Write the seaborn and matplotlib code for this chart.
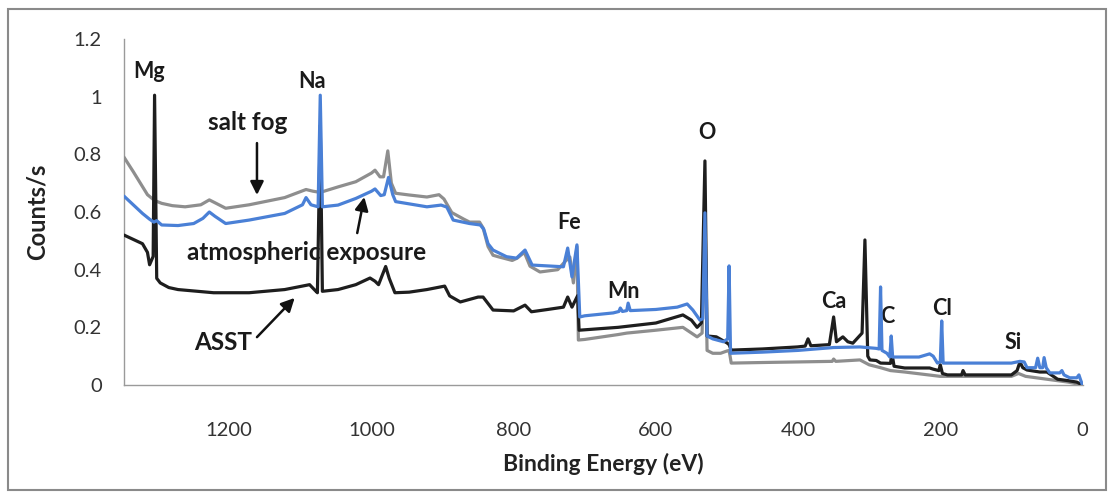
import matplotlib
matplotlib.use("Agg")
import matplotlib.pyplot as plt
from matplotlib.patches import Rectangle
import seaborn as sns
import pandas as pd

# ---------------- data ----------------
salt_fog_ev = [1348, 1335, 1325, 1315, 1305, 1295, 1280, 1262, 1240, 1228, 1220, 1205, 1172,
               1122, 1092, 1082, 1072, 1047, 1022, 1000, 995, 988, 983, 977, 972, 966, 947,
               922, 905, 898, 887, 870, 862, 848, 843, 836, 829, 822, 802, 795, 785, 777, 763,
               738, 727, 721, 716, 711, 709, 700, 653, 641, 600, 562, 542, 535, 531, 528, 520,
               509, 500, 497, 494, 450, 400, 352, 350, 347, 313, 300, 284, 270, 250, 200, 170,
               100, 90, 80, 50, 20, 0]
salt_fog_y = [0.79, 0.74, 0.70, 0.66, 0.64, 0.63, 0.622, 0.618, 0.625, 0.642, 0.632, 0.613, 0.625,
              0.650, 0.678, 0.672, 0.668, 0.687, 0.705, 0.735, 0.745, 0.722, 0.722, 0.812, 0.70,
              0.665, 0.659, 0.652, 0.660, 0.645, 0.598, 0.575, 0.565, 0.565, 0.545, 0.48, 0.45,
              0.445, 0.432, 0.44, 0.46, 0.412, 0.392, 0.40, 0.43, 0.444, 0.354, 0.48, 0.156,
              0.158, 0.175, 0.18, 0.19, 0.20, 0.167, 0.18, 0.55, 0.12, 0.11, 0.11, 0.118, 0.12,
              0.076, 0.078, 0.08, 0.082, 0.09, 0.082, 0.087, 0.07, 0.06, 0.05, 0.045, 0.03,
              0.03, 0.03, 0.04, 0.03, 0.02, 0.01, 0.0]

asst_ev = [1348, 1335, 1322, 1315, 1312, 1307, 1305, 1302, 1297, 1285, 1272, 1222, 1172, 1122,
           1087, 1080, 1076, 1072, 1069, 1047, 1022, 1002, 995, 990, 980, 975, 967, 947, 922,
           897, 890, 875, 850, 843, 829, 800, 784, 775, 752, 730, 724, 718, 710, 708, 653, 600,
           562, 550, 542, 536, 531, 528, 515, 500, 497, 494, 450, 401, 390, 386, 382, 356, 350,
           346, 337, 330, 323, 310, 306, 302, 299, 290, 284, 270, 268, 265, 250, 215, 210, 202,
           200, 197, 190, 170, 168, 165, 100, 92, 88, 84, 78, 60, 50, 35, 20, 8, 0]
asst_y = [0.52, 0.505, 0.49, 0.46, 0.417, 0.446, 1.005, 0.37, 0.354, 0.338, 0.331, 0.32, 0.32,
          0.331, 0.348, 0.33, 0.32, 0.90, 0.325, 0.331, 0.348, 0.371, 0.36, 0.348, 0.411, 0.37,
          0.32, 0.322, 0.331, 0.343, 0.309, 0.288, 0.305, 0.305, 0.26, 0.257, 0.277, 0.254,
          0.262, 0.27, 0.305, 0.27, 0.31, 0.19, 0.20, 0.215, 0.243, 0.225, 0.20, 0.215, 0.777,
          0.17, 0.167, 0.146, 0.14, 0.121, 0.125, 0.132, 0.135, 0.16, 0.136, 0.14, 0.236, 0.15,
          0.167, 0.15, 0.145, 0.18, 0.503, 0.10, 0.087, 0.085, 0.076, 0.075, 0.11, 0.065, 0.059,
          0.059, 0.055, 0.05, 0.07, 0.04, 0.035, 0.035, 0.05, 0.035, 0.035, 0.05, 0.08, 0.06,
          0.052, 0.045, 0.045, 0.02, 0.015, 0.01, 0.0]

atmos_ev = [1348, 1335, 1322, 1312, 1306, 1302, 1295, 1272, 1250, 1237, 1228, 1220, 1205, 1172,
            1122, 1097, 1092, 1085, 1075, 1072, 1069, 1047, 1022, 1000, 995, 987, 982, 976, 970,
            966, 922, 902, 894, 885, 862, 847, 842, 836, 829, 810, 796, 784, 774, 752, 730, 724,
            718, 711, 707, 700, 660, 652, 650, 647, 641, 639, 636, 600, 570, 556, 548, 538, 534,
            531, 528, 520, 505, 499, 497, 495, 450, 400, 350, 313, 290, 286, 284, 282, 275, 271,
            269, 267, 230, 215, 210, 204, 200, 198, 196, 100, 88, 82, 78, 66, 63, 60, 56, 54, 51,
            46, 32, 29, 26, 18, 8, 5, 3, 0]
atmos_y = [0.655, 0.625, 0.595, 0.575, 0.565, 0.57, 0.555, 0.553, 0.56, 0.578, 0.60, 0.585, 0.56,
           0.572, 0.595, 0.625, 0.65, 0.625, 0.618, 1.005, 0.618, 0.624, 0.647, 0.672, 0.68,
           0.657, 0.66, 0.72, 0.66, 0.636, 0.618, 0.624, 0.617, 0.572, 0.56, 0.555, 0.54, 0.49,
           0.468, 0.445, 0.44, 0.468, 0.416, 0.413, 0.41, 0.475, 0.375, 0.486, 0.236, 0.24, 0.25,
           0.255, 0.267, 0.255, 0.258, 0.284, 0.258, 0.262, 0.27, 0.281, 0.26, 0.225, 0.23,
           0.597, 0.17, 0.16, 0.15, 0.16, 0.413, 0.11, 0.114, 0.12, 0.13, 0.132, 0.127, 0.125,
           0.34, 0.12, 0.11, 0.097, 0.17, 0.097, 0.097, 0.108, 0.10, 0.076, 0.08, 0.222, 0.076,
           0.076, 0.082, 0.08, 0.06, 0.06, 0.093, 0.06, 0.06, 0.095, 0.06, 0.042, 0.042, 0.05,
           0.035, 0.025, 0.025, 0.035, 0.02, 0.0]

element_labels = ["Mg", "Na", "Fe", "Mn", "O", "Ca", "C", "Cl", "Si"]
element_ev = [1313, 1083, 722, 646, 528, 350, 274, 198, 98]
element_y = [1.086, 1.051, 0.562, 0.323, 0.874, 0.288, 0.236, 0.267, 0.146]

x_ticks = [1200, 1000, 800, 600, 400, 200, 0]
y_ticks = [0, 0.2, 0.4, 0.6, 0.8, 1.0, 1.2]
y_ticklabels = ["0", "0.2", "0.4", "0.6", "0.8", "1", "1.2"]

# ---------------- style ----------------
sns.set_style("white")
plt.rcParams["font.family"] = ["Lato", "DejaVu Sans"]

fig = plt.figure(figsize=(11.13, 4.94), dpi=100)
ax = fig.add_axes([124 / 1113, 1 - 385 / 494, (1082.5 - 124) / 1113, (385 - 39) / 494])

GRAY = "#8e8e8e"
BLACK = "#1e1e1e"
BLUE = "#4a80d6"
LW = 2.3

df_salt = pd.DataFrame({"ev": salt_fog_ev, "y": salt_fog_y})
df_asst = pd.DataFrame({"ev": asst_ev, "y": asst_y})
df_atm = pd.DataFrame({"ev": atmos_ev, "y": atmos_y})

sns.lineplot(data=df_salt, x="ev", y="y", sort=False, estimator=None, color=GRAY, lw=LW, ax=ax, zorder=3)
sns.lineplot(data=df_asst, x="ev", y="y", sort=False, estimator=None, color=BLACK, lw=LW, ax=ax, zorder=4)
sns.lineplot(data=df_atm, x="ev", y="y", sort=False, estimator=None, color=BLUE, lw=LW, ax=ax, zorder=5)

ax.set_xlim(1348, 0)
ax.set_ylim(0, 1.2)
ax.set_xticks(x_ticks)
ax.set_xticklabels([str(t) for t in x_ticks])
ax.set_yticks(y_ticks)
ax.set_yticklabels(y_ticklabels)

for side in ["top", "right"]:
    ax.spines[side].set_visible(False)
for side in ["left", "bottom"]:
    ax.spines[side].set_color("#9a9a9a")
    ax.spines[side].set_linewidth(1.0)
ax.tick_params(axis="both", which="major", direction="out", length=6, width=1.0,
               color="#9a9a9a", labelsize=14.5, labelcolor="#333333")
ax.tick_params(axis="x", pad=21)
ax.tick_params(axis="y", pad=10)

ax.set_xlabel("Binding Energy (eV)", fontsize=16.5, fontweight="bold", color="#222222", labelpad=10)
ax.set_ylabel("Counts/s", fontsize=17, fontweight="bold", color="#222222", labelpad=18)
ax.patch.set_alpha(0)

for lab, xe, ye in zip(element_labels, element_ev, element_y):
    ax.text(xe, ye, lab, ha="center", va="center", fontsize=15.5, fontweight="bold",
            color="#1a1a1a", zorder=1)

note_kw = dict(ha="center", va="center", fontsize=17.5, fontweight="bold", color="#1a1a1a", zorder=1)
ax.text(1174, 0.912, "salt fog", **note_kw)
ax.text(1091, 0.461, "atmospheric exposure", **note_kw)
ax.text(1209, 0.146, "ASST", **note_kw)

arrow_kw = dict(arrowstyle="-|>", color="#111111", lw=1.8, mutation_scale=20, shrinkA=0, shrinkB=0)
ax.annotate("", xy=(1161, 0.659), xytext=(1161, 0.839), arrowprops=arrow_kw)
ax.annotate("", xy=(1010, 0.652), xytext=(1020, 0.527), arrowprops=arrow_kw)
ax.annotate("", xy=(1108, 0.302), xytext=(1161, 0.166), arrowprops=arrow_kw)

fig.patches.append(Rectangle((8 / 1113, 1 - 490 / 494), (1106 - 8) / 1113, (490 - 9) / 494,
                             transform=fig.transFigure, fill=False, edgecolor="#8a8a8a", lw=1.5))

fig.savefig("out.png", dpi=100, facecolor="white")
